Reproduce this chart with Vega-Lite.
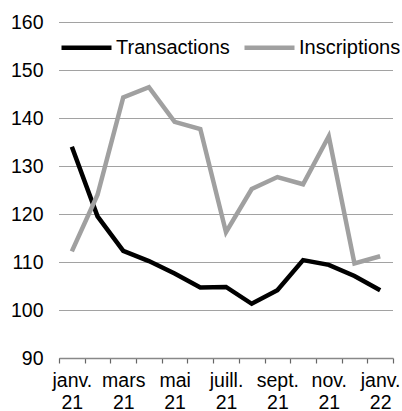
{
  "$schema": "https://vega.github.io/schema/vega-lite/v6.json",
  "width": 334,
  "height": 336,
  "autosize": {"type": "none"},
  "padding": {"left": 59, "top": 22, "right": 9, "bottom": 53},
  "background": "white",
  "config": {
    "view": {"stroke": null},
    "font": "Liberation Sans",
    "axis": {"labelFont": "Liberation Sans", "labelFontSize": 19.5, "labelColor": "#000000"}
  },
  "data": {
    "values": [
      {"mois": "janv. 21", "serie": "Transactions", "valeur": 134.0},
      {"mois": "févr. 21", "serie": "Transactions", "valeur": 119.5},
      {"mois": "mars 21", "serie": "Transactions", "valeur": 112.3},
      {"mois": "avr. 21", "serie": "Transactions", "valeur": 110.2},
      {"mois": "mai 21", "serie": "Transactions", "valeur": 107.6},
      {"mois": "juin 21", "serie": "Transactions", "valeur": 104.7},
      {"mois": "juill. 21", "serie": "Transactions", "valeur": 104.8},
      {"mois": "août 21", "serie": "Transactions", "valeur": 101.3},
      {"mois": "sept. 21", "serie": "Transactions", "valeur": 104.1},
      {"mois": "oct. 21", "serie": "Transactions", "valeur": 110.4},
      {"mois": "nov. 21", "serie": "Transactions", "valeur": 109.4},
      {"mois": "déc. 21", "serie": "Transactions", "valeur": 107.1},
      {"mois": "janv. 22", "serie": "Transactions", "valeur": 104.1},
      {"mois": "janv. 21", "serie": "Inscriptions", "valeur": 112.2},
      {"mois": "févr. 21", "serie": "Inscriptions", "valeur": 124.0},
      {"mois": "mars 21", "serie": "Inscriptions", "valeur": 144.3},
      {"mois": "avr. 21", "serie": "Inscriptions", "valeur": 146.4},
      {"mois": "mai 21", "serie": "Inscriptions", "valeur": 139.2},
      {"mois": "juin 21", "serie": "Inscriptions", "valeur": 137.7},
      {"mois": "juill. 21", "serie": "Inscriptions", "valeur": 116.2},
      {"mois": "août 21", "serie": "Inscriptions", "valeur": 125.2},
      {"mois": "sept. 21", "serie": "Inscriptions", "valeur": 127.7},
      {"mois": "oct. 21", "serie": "Inscriptions", "valeur": 126.2},
      {"mois": "nov. 21", "serie": "Inscriptions", "valeur": 136.2},
      {"mois": "déc. 21", "serie": "Inscriptions", "valeur": 109.7},
      {"mois": "janv. 22", "serie": "Inscriptions", "valeur": 111.2}
    ]
  },
  "mark": {"type": "line", "strokeWidth": 4.5, "strokeJoin": "miter", "strokeCap": "butt"},
  "encoding": {
    "x": {
      "field": "mois",
      "type": "ordinal",
      "sort": null,
      "bandPosition": 0.5,
      "scale": {"type": "band", "paddingInner": 0, "paddingOuter": 0},
      "axis": {
        "title": null,
        "tickBand": "extent",
        "labelAngle": 0,
        "domainColor": "#888888",
        "domainWidth": 1.5,
        "tickColor": "#666666",
        "tickWidth": 1.2,
        "tickSize": 5,
        "labelPadding": 8,
        "labelLineHeight": 22,
        "labelBaseline": "top",
        "labelFlush": false,
        "labelOverlap": false,
        "grid": false,
        "labelExpr": "indexof(['janv. 21','mars 21','mai 21','juill. 21','sept. 21','nov. 21','janv. 22'], datum.value) >= 0 ? split(datum.value, ' ') : ''"
      }
    },
    "y": {
      "field": "valeur",
      "type": "quantitative",
      "scale": {"domain": [90, 160], "nice": false, "zero": false},
      "axis": {
        "title": null,
        "values": [90, 100, 110, 120, 130, 140, 150, 160],
        "domain": false,
        "ticks": false,
        "labelPadding": 16,
        "grid": true,
        "gridColor": "#444444",
        "gridDash": [1, 1],
        "gridWidth": 1
      }
    },
    "color": {
      "field": "serie",
      "type": "nominal",
      "sort": ["Transactions", "Inscriptions"],
      "scale": {"domain": ["Transactions", "Inscriptions"], "range": ["#000000", "#a0a0a0"]},
      "legend": {
        "title": null,
        "orient": "none",
        "legendX": 0,
        "legendY": -2,
        "direction": "horizontal",
        "padding": 0,
        "symbolType": "stroke",
        "symbolSize": 2500,
        "symbolStrokeWidth": 4.5,
        "labelFont": "Liberation Sans",
        "labelFontSize": 20,
        "labelColor": "#000000",
        "labelOffset": 2,
        "labelLimit": 200,
        "columnPadding": 5
      }
    }
  }
}
